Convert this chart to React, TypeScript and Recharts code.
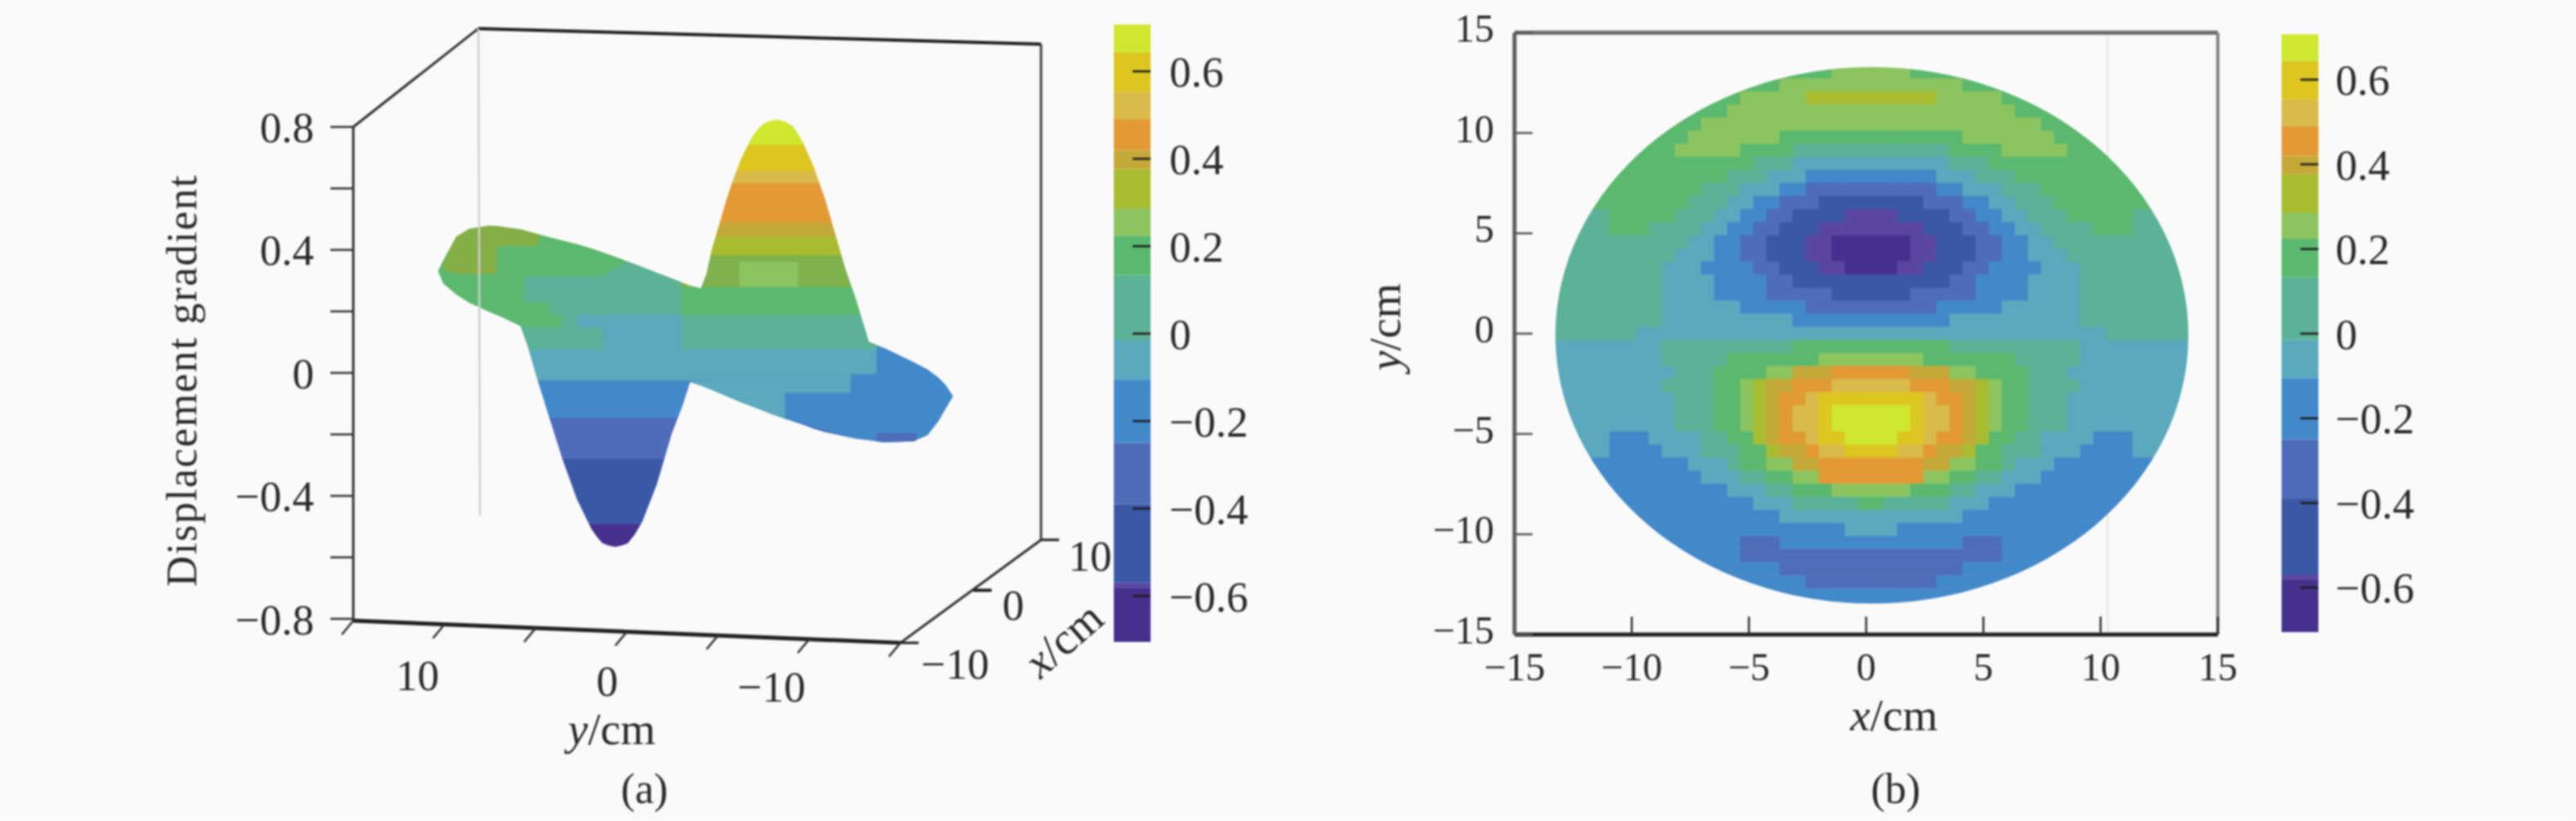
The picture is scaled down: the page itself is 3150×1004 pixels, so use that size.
import React from "react";
import { Area, Bar, BarChart, ComposedChart, ReferenceLine, Scatter, ScatterChart, XAxis, YAxis } from "recharts";

// colour levels, low to high, shared by both panels and the colour bars
const levelColors = [
  "#46308e", "#5a46a0", "#3b58a6", "#4f6cb8", "#4289ca", "#5aa9bc", "#5cb296", "#5ab96f",
  "#8cc460", "#a9bc30", "#c4a938", "#e39a34", "#d8bb4a", "#dcc61f", "#cfe82f",
];
const levelBounds = [-0.705, -0.58, -0.57, -0.39, -0.25, -0.105, -0.015, 0.134, 0.224, 0.286, 0.377, 0.42, 0.49, 0.553, 0.644, 0.707];
const colorTicks = [-0.6, -0.4, -0.2, 0, 0.2, 0.4, 0.6];

// panel (a): outline of the surface as seen in the picture plane
const surfaceX = [
  10.35, 10.05, 9.35, 8.65, 7.55, 6.95, 5.84, 5.44, 4.94, 4.35, 3.54, 2.74, 1.94, 1.64, 1.34, 0.98, 0.64, 0.3, -0.06, -0.46, -0.86, -1.66, -2.46, -3.06, -3.47, -4.06, -4.36,
  -4.66, -5.07, -5.47, -5.87, -6.27, -6.87, -7.17, -7.47, -7.87, -8.27, -8.67, -9.07, -9.37, -9.67, -10.27, -10.87, -11.47, -11.97, -12.57, -13.27, -14.08, -15.68, -16.47, -17.08, -17.48, -17.88,
];
const surfaceUpper = [
  0.331, 0.367, 0.443, 0.468, 0.479, 0.475, 0.467, 0.46, 0.452, 0.443, 0.43, 0.419, 0.404, 0.398, 0.392, 0.385, 0.377, 0.37, 0.362, 0.353, 0.344, 0.325, 0.307, 0.293, 0.284, 0.275, 0.321,
  0.402, 0.484, 0.565, 0.636, 0.697, 0.768, 0.791, 0.809, 0.82, 0.824, 0.817, 0.804, 0.779, 0.748, 0.667, 0.565, 0.443, 0.341, 0.239, 0.102, 0.082, 0.036, 0.011, -0.015, -0.04, -0.076,
];
const surfaceLower = [
  0.331, 0.29, 0.255, 0.229, 0.199, 0.184, 0.153, 0.087, -0.015, -0.127, -0.279, -0.411, -0.508, -0.533, -0.554, -0.562, -0.566, -0.562, -0.554, -0.523, -0.482, -0.36, -0.198, -0.106, -0.03, -0.041, -0.048,
  -0.055, -0.066, -0.076, -0.086, -0.096, -0.108, -0.114, -0.121, -0.132, -0.141, -0.149, -0.157, -0.163, -0.169, -0.182, -0.193, -0.2, -0.207, -0.214, -0.219, -0.226, -0.223, -0.203, -0.157, -0.116, -0.076,
];
const surfaceBandBounds = [0.824, 0.743, 0.656, 0.617, 0.489, 0.444, 0.383, 0.279, 0.189, 0.077, -0.024, -0.146, -0.279, -0.492, -0.566];
const surfaceBandColors = [
  "#cfe82f", "#dcc61f", "#d8bb4a", "#e39a34", "#c4a938", "#a9bc30", "#7fb24c", "#5ab96f", "#5cb296", "#5aa9bc", "#4289ca", "#4f6cb8", "#3b58a6", "#46308e",
];

// the wings sit deeper in the view, so their colours do not follow the height bands of the peak
const surfacePatches = [
  {
    color: "#5ab96f",
    x: [10.35, 10.05, 9.35, 8.65, 7.55, 6.95, 5.84, 5.44, 4.94, 4.35, 3.54, 3.52, 2.74, 1.94, 1.34, 0.64, -0.06],
    lower: [0.331, 0.29, 0.255, 0.229, 0.199, 0.184, 0.153, 0.148, 0.148, 0.148, 0.148, 0.316, 0.316, 0.316, 0.316, 0.316, 0.316],
    upper: [0.331, 0.367, 0.443, 0.468, 0.479, 0.475, 0.467, 0.46, 0.452, 0.443, 0.43, 0.43, 0.419, 0.404, 0.392, 0.377, 0.362],
  },
  {
    color: "#86ae46",
    x: [10.05, 9.35, 8.65, 7.55, 7.15, 7.13, 5.84, 4.94, 4.74],
    lower: [0.336, 0.321, 0.321, 0.321, 0.321, 0.412, 0.412, 0.412, 0.44],
    upper: [0.36, 0.443, 0.468, 0.479, 0.478, 0.478, 0.467, 0.452, 0.44],
  },
  {
    color: "#5cb296",
    x: [5.64, 4.24, 4.22, 3.56, 3.54, 1.34, 1.32, -0.06, -0.86, -1.66, -2.46, -2.97],
    lower: [0.229, 0.229, 0.189, 0.189, 0.077, 0.077, 0.189, 0.189, 0.189, 0.189, 0.189, 0.189],
    upper: [0.316, 0.316, 0.316, 0.316, 0.316, 0.316, 0.316, 0.362, 0.344, 0.325, 0.307, 0.295],
  },
  {
    color: "#5aa9bc",
    x: [2.74, 1.34, 1.32, -2.97],
    lower: [0.148, 0.148, 0.077, 0.077],
    upper: [0.189, 0.189, 0.189, 0.189],
  },
  {
    color: "#5aa9bc",
    x: [-3.57, -4.67, -6.07, -8.07, -8.67, -8.69, -12.27],
    lower: [-0.03, -0.055, -0.091, -0.137, -0.149, -0.066, -0.066],
    upper: [-0.025, -0.025, -0.025, -0.025, -0.025, -0.025, -0.025],
  },
  {
    color: "#4289ca",
    x: [-8.67, -12.27, -12.29, -13.68, -13.7, -14.08, -15.68, -16.48, -17.08, -17.48, -17.88],
    lower: [-0.149, -0.21, -0.21, -0.222, -0.222, -0.226, -0.223, -0.203, -0.157, -0.116, -0.076],
    upper: [-0.066, -0.066, -0.004, -0.004, 0.088, 0.082, 0.036, 0.011, -0.015, -0.04, -0.076],
  },
  {
    color: "#4f6cb8",
    x: [-13.68, -15.68, -15.88],
    lower: [-0.222, -0.223, -0.22],
    upper: [-0.196, -0.196, -0.196],
  },
  {
    color: "#8cc460",
    x: [-6.17, -9.37],
    lower: [0.28, 0.28],
    upper: [0.362, 0.362],
  },
];

const heightTicks = [-0.8, -0.6, -0.4, -0.2, 0, 0.2, 0.4, 0.6, 0.8];
const heightLabels = [-0.8, -0.4, 0, 0.4, 0.8];
const frontTicks = [15, 10, 5, 0, -5, -10, -15];
const frontLabels = [10, 0, -10];
const frontLabelShift = { "10": -33, "0": -24, "-10": -46 };

// panel (b): one string per row from top to bottom, runs of level*cells from left to right
const heatRuns = [
  "7*22 8*6 7*22",
  "7*18 8*14 7*18",
  "7*15 8*5 9*10 8*5 7*15",
  "7*14 8*22 7*14",
  "7*12 8*26 7*12",
  "7*11 8*7 7*14 8*7 7*11",
  "7*10 8*5 7*4 6*12 7*4 8*5 7*10",
  "7*16 6*3 5*12 6*3 7*16",
  "7*14 6*3 5*3 4*10 5*3 6*3 7*14",
  "7*12 6*3 5*3 4*2 3*10 4*2 5*3 6*3 7*12",
  "7*11 6*3 5*2 4*2 3*3 2*8 3*3 4*2 5*2 6*3 7*11",
  "6*5 7*5 6*3 5*2 4*2 3*2 2*4 1*4 2*4 3*2 4*2 5*2 6*3 7*5 6*5",
  "6*5 7*3 6*4 5*2 4*2 3*2 2*3 1*8 2*3 3*2 4*2 5*2 6*4 7*3 6*5",
  "6*11 5*2 4*2 3*2 2*3 1*2 0*6 1*2 2*3 3*2 4*2 5*2 6*11",
  "6*10 5*3 4*2 3*2 2*3 1*2 0*6 1*2 2*3 3*2 4*2 5*3 6*10",
  "6*9 5*3 4*4 3*2 2*3 1*2 0*4 1*2 2*3 3*2 4*4 5*3 6*9",
  "6*9 5*4 4*4 3*2 2*12 3*2 4*4 5*4 6*9",
  "6*9 5*4 4*4 3*5 2*6 3*5 4*4 5*4 6*9",
  "6*9 5*6 4*5 3*10 4*5 5*6 6*9",
  "6*9 5*10 4*12 5*10 6*9",
  "6*7 5*36 6*7",
  "5*9 6*10 7*12 6*10 5*9",
  "5*9 6*5 7*7 8*8 7*7 6*5 5*9",
  "5*10 6*3 7*4 8*2 a*3 b*6 a*3 8*2 7*4 6*3 5*10",
  "5*9 6*4 7*2 8*1 9*1 a*2 b*3 c*6 b*3 a*2 9*1 8*1 7*2 6*4 5*9",
  "5*10 6*3 7*2 8*1 9*1 a*1 b*2 c*1 d*8 c*1 b*2 a*1 9*1 8*1 7*2 6*3 5*10",
  "5*10 6*3 7*2 8*1 9*1 a*1 b*1 c*2 d*1 e*6 d*1 c*2 b*1 a*1 9*1 8*1 7*2 6*3 5*10",
  "5*10 6*3 7*2 8*1 9*1 a*1 b*1 c*2 d*1 e*6 d*1 c*2 b*1 a*1 9*1 8*1 7*2 6*3 5*10",
  "5*5 4*3 5*4 6*2 7*2 9*1 a*1 b*2 c*1 d*2 e*4 d*2 c*1 b*2 a*1 9*1 7*2 6*2 5*4 4*3 5*5",
  "5*5 4*4 5*3 6*3 7*2 9*1 a*2 b*1 c*2 d*4 c*2 b*1 a*2 9*1 7*2 6*3 5*3 4*4 5*5",
  "4*11 5*3 6*1 7*2 8*2 a*2 b*8 a*2 8*2 7*2 6*1 5*3 4*11",
  "4*12 5*3 6*2 7*2 8*2 b*8 8*2 7*2 6*2 5*3 4*12",
  "4*14 5*3 6*2 7*3 8*6 7*3 6*2 5*3 4*14",
  "4*16 5*3 6*5 7*2 6*5 5*3 4*16",
  "4*18 5*14 4*18",
  "4*23 5*4 4*23",
  "4*15 3*3 4*14 3*3 4*15",
  "4*15 3*20 4*15",
  "4*18 3*14 4*18",
  "4*20 3*10 4*20",
  "4*50",
  "4*50",
];
const heatTicks = [-15, -10, -5, 0, 5, 10, 15];

const ink = "#2a2a2a";
const serif = '"Liberation Serif"';
const minus = (v: number) => (v < 0 ? `\u2212${-v}` : `${v}`);

const surfaceRows = surfaceX.map((x, i) => ({ x, range: [surfaceLower[i], surfaceUpper[i]] }));
const patchRows = (p: { x: number[]; lower: number[]; upper: number[] }) =>
  p.x.map((x, i) => ({ x, range: [p.lower[i], p.upper[i]] }));

const heatCells = heatRuns.flatMap((row, r) => {
  const levels = row.split(" ").flatMap((run) => {
    const [level, count] = run.split("*");
    return Array(Number(count)).fill(parseInt(level, 16));
  });
  return levels.map((level, c) => ({ x: -13.46 + 0.558 * c, y: 13.05 - 0.652 * r, level }));
});

// the colour bar is a stack growing away from zero on both sides
const barSegments = levelColors.flatMap((color, i) => {
  const lo = levelBounds[i];
  const hi = levelBounds[i + 1];
  if (lo < 0 && hi > 0) {
    return [
      { key: `p${i}`, value: hi, color, at: hi },
      { key: `n${i}`, value: lo, color, at: lo },
    ];
  }
  return [{ key: hi > 0 ? `p${i}` : `n${i}`, value: hi > 0 ? hi - lo : lo - hi, color, at: hi > 0 ? hi : lo }];
});
const stackOrder = [
  ...barSegments.filter((s) => s.value > 0).sort((a, b) => a.at - b.at),
  ...barSegments.filter((s) => s.value < 0).sort((a, b) => b.at - a.at),
];
const barRow = [Object.fromEntries([["name", "level"], ...stackOrder.map((s) => [s.key, s.value])])];

// box of the 3-D view, in picture-plane units of the panel (a) axes
const boxLines = [
  { from: [15, 0.8], to: [15, -0.806], color: "#333", width: 3 },
  { from: [15, 0.8], to: [8.14, 1.12], color: "#333", width: 3 },
  { from: [8.14, 1.12], to: [-22.71, 1.069], color: "#222", width: 4 },
  { from: [-22.71, 1.069], to: [-22.71, -0.543], color: "#444", width: 3 },
  { from: [15, -0.806], to: [-15, -0.878], color: "#222", width: 5 },
  { from: [-15, -0.878], to: [-22.71, -0.543], color: "#333", width: 3 },
  { from: [8.14, 1.12], to: [8.05, -0.465], color: "#cfcfcf", width: 2.5 },
  { from: [-22.71, -0.543], to: [-23.7, -0.543], color: "#222", width: 3 },
  { from: [-19, -0.707], to: [-20, -0.707], color: "#222", width: 4 },
  { from: [-15, -0.878], to: [-16, -0.878], color: "#222", width: 3 },
];

function ColorBar({ left, top, bottom, domain, labelGap }: { left: number; top: number; bottom: number; domain: [number, number]; labelGap: number }) {
  return (
    <div style={{ position: "absolute", left, top: 0 }}>
      <BarChart
        width={240}
        height={1004}
        data={barRow}
        stackOffset="sign"
        barCategoryGap={0}
        margin={{ top, bottom: 1004 - bottom, left: 2, right: 0 }}
      >
        <XAxis dataKey="name" type="category" hide />
        {stackOrder.map((s) => (
          <Bar key={s.key} dataKey={s.key} stackId="levels" fill={s.color} stroke="none" isAnimationActive={false} />
        ))}
        <YAxis
          orientation="right"
          type="number"
          width={193}
          domain={domain}
          allowDataOverflow
          ticks={colorTicks}
          interval={0}
          axisLine={false}
          tickSize={-22}
          tickMargin={labelGap}
          tickLine={{ stroke: "#1c1c1c", strokeWidth: 2.5 }}
          tick={{ fill: ink, fontSize: 53, fontFamily: serif }}
          tickFormatter={minus}
        />
      </BarChart>
    </div>
  );
}

function SurfacePanel() {
  const frontTickRows = frontTicks.map((x) => {
    const y = -0.806 - ((15 - x) / 30) * 0.072;
    return { x, y };
  });
  return (
    <div style={{ position: "absolute", left: 0, top: 0 }}>
      <ComposedChart width={1360} height={1004} data={surfaceRows} margin={{ top: 20, right: 87, left: 0, bottom: 0 }}>
        <defs>
          <linearGradient id="surfaceBands" x1="0" y1="0" x2="0" y2="1">
            {surfaceBandColors.flatMap((color, i) => {
              const span = surfaceBandBounds[0] - surfaceBandBounds[surfaceBandBounds.length - 1];
              const a = (surfaceBandBounds[0] - surfaceBandBounds[i]) / span;
              const b = (surfaceBandBounds[0] - surfaceBandBounds[i + 1]) / span;
              return [
                <stop key={`${i}a`} offset={a} stopColor={color} />,
                <stop key={`${i}b`} offset={b} stopColor={color} />,
              ];
            })}
          </linearGradient>
        </defs>
        <XAxis
          dataKey="x"
          type="number"
          reversed
          domain={[-22.71, 15]}
          allowDataOverflow
          ticks={frontLabels}
          interval={0}
          height={204}
          axisLine={false}
          tickLine={false}
          tick={(p: any) => (
            <text
              x={p.x + frontLabelShift[String(p.payload.value)]}
              y={844 + (10 - p.payload.value) * 0.7}
              textAnchor="middle"
              fontSize={53}
              fontFamily={serif}
              fill={ink}
            >
              {minus(p.payload.value)}
            </text>
          )}
        />
        <YAxis
          type="number"
          width={432}
          domain={[-0.9149, 1.1596]}
          allowDataOverflow
          ticks={heightTicks}
          interval={0}
          axisLine={false}
          tickSize={28}
          tickMargin={20}
          tickLine={{ stroke: "#333", strokeWidth: 2.5 }}
          tick={{ fill: ink, fontSize: 53, fontFamily: serif }}
          tickFormatter={(v: number) => (heightLabels.includes(v) ? minus(v) : "")}
        />
        {boxLines.map((l, i) => (
          <ReferenceLine
            key={i}
            ifOverflow="visible"
            segment={[{ x: l.from[0], y: l.from[1] }, { x: l.to[0], y: l.to[1] }]}
            stroke={l.color}
            strokeWidth={l.width}
          />
        ))}
        {frontTickRows.map((t) => (
          <ReferenceLine
            key={t.x}
            ifOverflow="visible"
            segment={[{ x: t.x, y: t.y }, { x: t.x + 0.63, y: t.y - 0.045 }]}
            stroke="#333"
            strokeWidth={2.5}
          />
        ))}
        <Area dataKey="range" type="linear" fill="url(#surfaceBands)" fillOpacity={1} stroke="none" dot={false} activeDot={false} isAnimationActive={false} />
        {surfacePatches.map((p, i) => (
          <Area key={i} data={patchRows(p)} dataKey="range" type="linear" fill={p.color} fillOpacity={1} stroke="none" dot={false} activeDot={false} isAnimationActive={false} />
        ))}
        <text x={223} y={466} textAnchor="middle" fontSize={52} fontFamily={serif} fill={ink} textLength={503} transform="rotate(-90 223 466) translate(0 17)">
          Displacement gradient
        </text>
        <text x={1333} y={698} textAnchor="middle" fontSize={53} fontFamily={serif} fill={ink}>10</text>
        <text x={1239} y={758} textAnchor="middle" fontSize={53} fontFamily={serif} fill={ink}>0</text>
        <text x={1168} y={830} textAnchor="middle" fontSize={53} fontFamily={serif} fill={ink}>{"\u221210"}</text>
        <text x={1302} y={784} textAnchor="middle" fontSize={55} fontFamily={serif} fill={ink} transform="rotate(-41 1302 784) translate(0 16)">
          <tspan fontStyle="italic">x</tspan>/cm
        </text>
        <text x={748} y={910} textAnchor="middle" fontSize={55} fontFamily={serif} fill={ink}>
          <tspan fontStyle="italic">y</tspan>/cm
        </text>
        <text x={788} y={982} textAnchor="middle" fontSize={52} fontFamily={serif} fill={ink}>(a)</text>
      </ComposedChart>
    </div>
  );
}

function HeatPanel() {
  return (
    <div style={{ position: "absolute", left: 1640, top: 0 }}>
      <ScatterChart width={1140} height={1004} margin={{ top: 40, right: 68, left: 0, bottom: 0 }}>
        <defs>
          <clipPath id="disc">
            <ellipse cx={649} cy={410} rx={387} ry={328} />
          </clipPath>
        </defs>
        <XAxis
          dataKey="x"
          type="number"
          domain={[-15, 15]}
          allowDataOverflow
          ticks={heatTicks}
          interval={0}
          height={228}
          axisLine={{ stroke: "#222", strokeWidth: 5 }}
          tickSize={-22}
          tickMargin={44}
          tickLine={{ stroke: "#333", strokeWidth: 2.5 }}
          tick={{ fill: ink, fontSize: 48, fontFamily: serif }}
          tickFormatter={minus}
        />
        <YAxis
          dataKey="y"
          type="number"
          width={212}
          domain={[-15, 15]}
          allowDataOverflow
          ticks={heatTicks}
          interval={0}
          axisLine={{ stroke: "#5f5f5f", strokeWidth: 5 }}
          tickSize={-22}
          tickMargin={47}
          tickLine={{ stroke: "#555", strokeWidth: 2.5 }}
          tick={{ fill: ink, fontSize: 48, fontFamily: serif, dy: -6 }}
          tickFormatter={minus}
        />
        <ReferenceLine x={10.3} stroke="#e6e6e6" strokeWidth={2} />
        <ReferenceLine y={15} ifOverflow="visible" stroke="#6b6b6b" strokeWidth={5} />
        <ReferenceLine x={15} ifOverflow="visible" stroke="#858585" strokeWidth={4} />
        <Scatter
          data={heatCells}
          isAnimationActive={false}
          shape={(p: any) => (
            <rect
              x={p.cx - 8.2}
              y={p.cy - 8.2}
              width={16.4}
              height={16.4}
              fill={levelColors[p.payload.level]}
              clipPath="url(#disc)"
            />
          )}
        />
        <text x={56} y={400} textAnchor="middle" fontSize={55} fontFamily={serif} fill={ink} transform="rotate(-90 56 400) translate(0 16)">
          <tspan fontStyle="italic">y</tspan>/cm
        </text>
        <text x={676} y={893} textAnchor="middle" fontSize={55} fontFamily={serif} fill={ink}>
          <tspan fontStyle="italic">x</tspan>/cm
        </text>
        <text x={678} y={982} textAnchor="middle" fontSize={52} fontFamily={serif} fill={ink}>(b)</text>
      </ScatterChart>
    </div>
  );
}

export default function App() {
  return (
    <div style={{ position: "absolute", left: 0, top: 0, width: 3150, height: 1004, background: "#fafafa", overflow: "hidden", filter: "blur(1px)" }}>
      <SurfacePanel />
      <ColorBar left={1360} top={30} bottom={785} domain={[-0.705, 0.707]} labelGap={45} />
      <HeatPanel />
      <ColorBar left={2788} top={42} bottom={773} domain={[-0.705, 0.707]} labelGap={43} />
    </div>
  );
}
